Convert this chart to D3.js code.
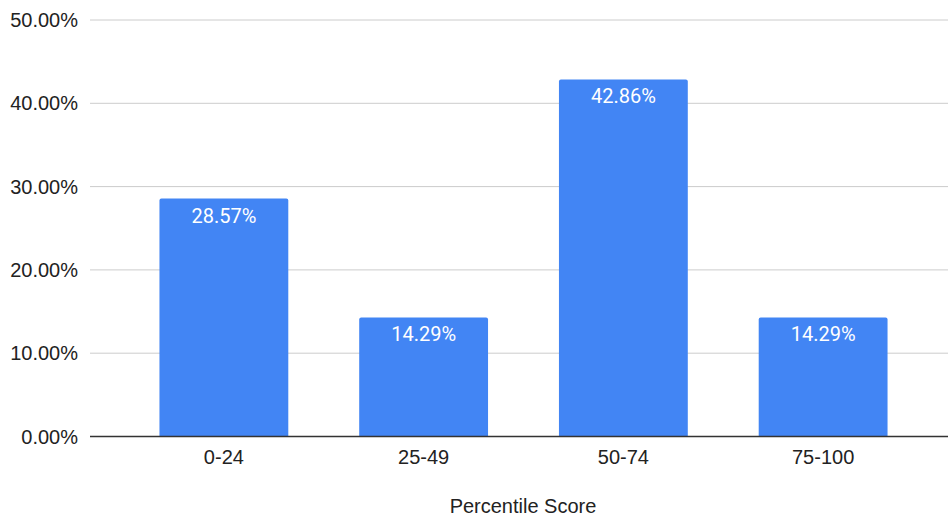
<!DOCTYPE html>
<html>
<head>
<meta charset="utf-8">
<script src="https://cdn.jsdelivr.net/npm/d3@7"></script>
<style>
  html, body { margin: 0; padding: 0; background: #fff; }
  svg { display: block; font-family: "Liberation Sans", Arial, sans-serif; }
</style>
</head>
<body>
<svg id="chart" width="948" height="519"></svg>
<script>
// Share of scores per percentile band
const categories = ["0-24", "25-49", "50-74", "75-100"];
const values = [28.57, 14.29, 42.86, 14.29];
const yTicks = [0, 10, 20, 30, 40, 50];
const xTitle = "Percentile Score";

const svg = d3.select("#chart");
const gridLeft = 90, gridRight = 948;
const yTop = 20, yBottom = 436.5;
const axisFont = "'Liberation Sans', Arial, sans-serif";
const labelFont = "Roboto, Arial, sans-serif";

const x = d3.scaleBand()
  .domain(categories)
  .range([124, 923])
  .paddingInner(0.355)
  .paddingOuter(0.1775);

const y = d3.scaleLinear().domain([0, 50]).range([yBottom, yTop]);

// Horizontal gridlines
svg.append("g")
  .selectAll("line")
  .data(yTicks.filter(t => t !== 0))
  .join("line")
  .attr("x1", gridLeft).attr("x2", gridRight)
  .attr("y1", d => y(d)).attr("y2", d => y(d))
  .attr("stroke", "#cccccc").attr("stroke-width", 1);

// Y axis labels
const yAxis = d3.axisLeft(y).tickValues(yTicks).tickSize(0).tickPadding(0)
  .tickFormat(d => d.toFixed(2) + "%");
const gy = svg.append("g").attr("transform", "translate(78,0)").call(yAxis);
gy.select(".domain").remove();
gy.selectAll("text")
  .attr("font-size", 20).attr("fill", "#222").attr("font-family", axisFont)
  .attr("dy", "0.33em");

// Bars with slightly rounded top corners
const r = 2;
const rows = categories.map((c, i) => ({ c, v: values[i] }));
svg.append("g")
  .selectAll("path")
  .data(rows)
  .join("path")
  .attr("fill", "#4285f4")
  .attr("d", d => {
    const x0 = x(d.c), x1 = x0 + x.bandwidth();
    const y0 = y(d.v), y1 = y(0);
    return `M${x0},${y1}V${y0 + r}Q${x0},${y0} ${x0 + r},${y0}H${x1 - r}Q${x1},${y0} ${x1},${y0 + r}V${y1}Z`;
  });

// Value labels inside bars
svg.append("g")
  .selectAll("text")
  .data(rows)
  .join("text")
  .attr("x", d => x(d.c) + x.bandwidth() / 2)
  .attr("y", d => y(d.v) + 24)
  .attr("text-anchor", "middle")
  .attr("font-family", labelFont)
  .attr("font-size", 20)
  .attr("fill", "#ffffff")
  .text(d => d.v.toFixed(2) + "%");

// Baseline
svg.append("line")
  .attr("x1", gridLeft).attr("x2", gridRight)
  .attr("y1", y(0)).attr("y2", y(0))
  .attr("stroke", "#333").attr("stroke-width", 1.5);

// Category labels
const xAxis = d3.axisBottom(x).tickSize(0).tickPadding(0);
const gx = svg.append("g").attr("transform", `translate(0,${y(0)})`).call(xAxis);
gx.select(".domain").remove();
gx.selectAll("text")
  .attr("font-size", 20).attr("fill", "#222").attr("font-family", axisFont)
  .attr("y", 27).attr("dy", 0);

// Axis title
svg.append("text")
  .attr("x", 523).attr("y", 512.5)
  .attr("text-anchor", "middle")
  .attr("font-family", axisFont)
  .attr("font-size", 20)
  .attr("fill", "#222")
  .text(xTitle);
</script>
</body>
</html>
